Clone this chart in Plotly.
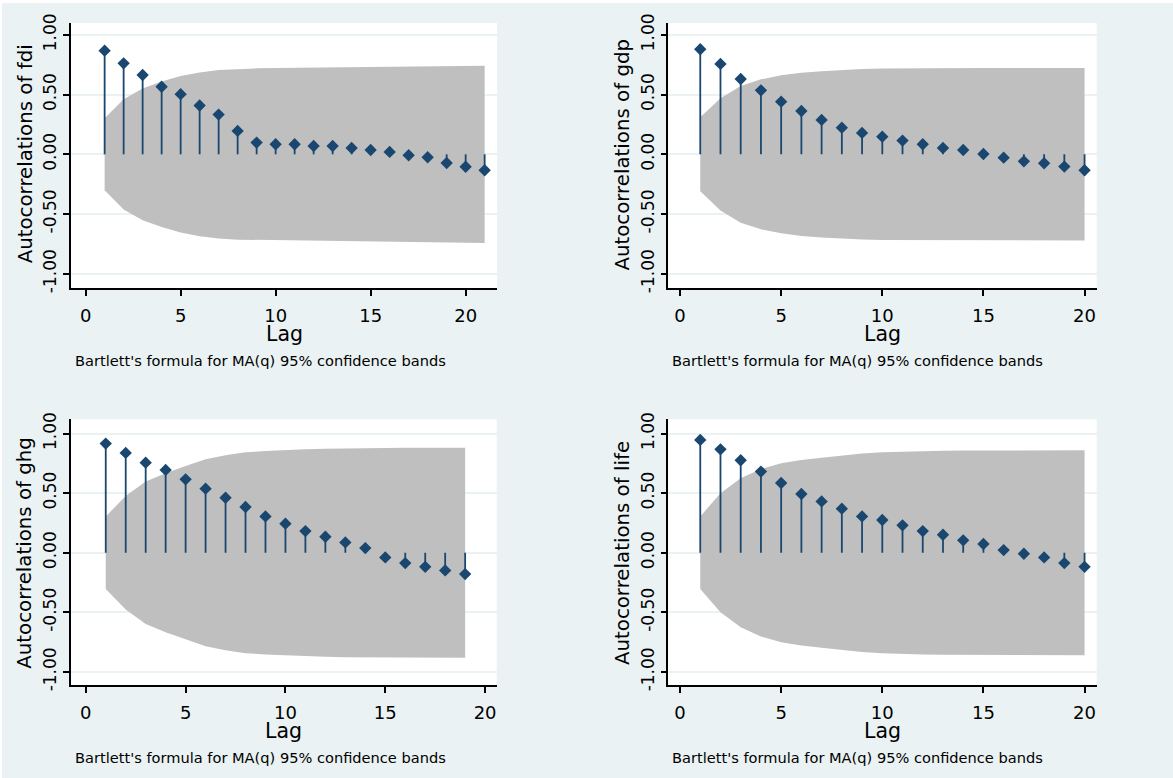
import plotly.graph_objects as go

W, H = 1173, 778

# ---------------- data ----------------
lags_fdi = list(range(1, 22))
lags_20 = list(range(1, 21))
lags_ghg = list(range(1, 20))

fdi_acf = [0.868, 0.762, 0.664, 0.566, 0.504, 0.409, 0.333, 0.196, 0.098, 0.084,
           0.084, 0.070, 0.070, 0.053, 0.036, 0.020, -0.008, -0.025, -0.073, -0.104, -0.134]
fdi_band = [0.302, 0.462, 0.552, 0.610, 0.655, 0.686, 0.706, 0.715, 0.720, 0.724,
            0.726, 0.728, 0.730, 0.732, 0.733, 0.735, 0.736, 0.737, 0.738, 0.740, 0.742]

gdp_acf = [0.880, 0.757, 0.631, 0.536, 0.441, 0.363, 0.288, 0.223, 0.179, 0.148,
           0.115, 0.084, 0.053, 0.036, 0.003, -0.028, -0.059, -0.075, -0.103, -0.134]
gdp_band = [0.310, 0.470, 0.573, 0.628, 0.662, 0.684, 0.696, 0.707, 0.714, 0.718,
            0.720, 0.721, 0.722, 0.722, 0.722, 0.722, 0.722, 0.722, 0.722, 0.722]

ghg_acf = [0.916, 0.838, 0.756, 0.695, 0.616, 0.538, 0.462, 0.384, 0.305, 0.244,
           0.182, 0.134, 0.087, 0.039, -0.039, -0.087, -0.118, -0.148, -0.179]
ghg_band = [0.305, 0.476, 0.597, 0.667, 0.728, 0.785, 0.818, 0.843, 0.853, 0.862,
            0.868, 0.873, 0.877, 0.879, 0.880, 0.881, 0.882, 0.882, 0.882]

life_acf = [0.947, 0.868, 0.776, 0.681, 0.585, 0.493, 0.431, 0.370, 0.305, 0.275,
            0.230, 0.182, 0.151, 0.104, 0.073, 0.022, -0.008, -0.039, -0.087, -0.118]
life_band = [0.305, 0.499, 0.625, 0.703, 0.751, 0.779, 0.798, 0.818, 0.833, 0.843,
             0.849, 0.853, 0.856, 0.858, 0.859, 0.860, 0.860, 0.860, 0.860, 0.860]

y_ticks = [-1.0, -0.5, 0.0, 0.5, 1.0]
x_ticks = [0, 5, 10, 15, 20]
note = "Bartlett's formula for MA(q) 95% confidence bands"

panels = [
    # name, lags, acf, band, x-domain px, y-domain px (top,bottom), x range, y range
    ("fdi", lags_fdi, fdi_acf, fdi_band, (71, 497), (23, 288), (-0.77, 21.65), (-1.12, 1.10)),
    ("gdp", lags_20, gdp_acf, gdp_band, (668.3, 1096.7), (23, 288), (-0.58, 20.6), (-1.12, 1.10)),
    ("ghg", lags_ghg, ghg_acf, ghg_band, (71, 496.7), (419.3, 685), (-0.74, 20.58), (-1.11, 1.12)),
    ("life", lags_20, life_acf, life_band, (668.3, 1096.7), (419.3, 685), (-0.58, 20.6), (-1.11, 1.12)),
]

NAVY = "#1a476f"
BAND = "#bfbfbf"
BG = "#eaf2f3"
FONT = "DejaVu Sans, Arial, sans-serif"

fig = go.Figure()
annotations = []
layout_axes = {}

for i, (name, lags, acf, band, xd, yd, xr, yr) in enumerate(panels):
    n = i + 1
    xa = "x" if n == 1 else f"x{n}"
    ya = "y" if n == 1 else f"y{n}"
    xkey = "xaxis" if n == 1 else f"xaxis{n}"
    ykey = "yaxis" if n == 1 else f"yaxis{n}"

    # confidence band
    bx = list(lags) + list(reversed(lags))
    by = list(band) + [-b for b in reversed(band)]
    fig.add_trace(go.Scatter(x=bx, y=by, xaxis=xa, yaxis=ya, mode="lines",
                             fill="toself", fillcolor=BAND, line=dict(width=0, color=BAND),
                             hoverinfo="skip", showlegend=False))
    # stems
    sx, sy = [], []
    for l, v in zip(lags, acf):
        sx += [l, l, None]
        sy += [0, v, None]
    fig.add_trace(go.Scatter(x=sx, y=sy, xaxis=xa, yaxis=ya, mode="lines",
                             line=dict(color=NAVY, width=1.8), hoverinfo="skip",
                             showlegend=False))
    # markers
    fig.add_trace(go.Scatter(x=lags, y=acf, xaxis=xa, yaxis=ya, mode="markers",
                             marker=dict(symbol="diamond", size=9.5, color=NAVY,
                                         line=dict(width=0)),
                             showlegend=False))

    dom_x = [xd[0] / W, xd[1] / W]
    dom_y = [1 - yd[1] / H, 1 - yd[0] / H]
    layout_axes[xkey] = dict(domain=dom_x, range=list(xr), anchor=ya, automargin=False,
                             tickvals=x_ticks, ticktext=[str(t) for t in x_ticks],
                             showgrid=False, zeroline=False, showline=True,
                             linecolor="black", linewidth=1.5, ticks="outside",
                             ticklen=6, tickwidth=1.5, tickcolor="black",
                             ticklabelstandoff=5,
                             tickfont=dict(family=FONT, size=18, color="black"),
                             fixedrange=True)
    layout_axes[ykey] = dict(domain=dom_y, range=list(yr), anchor=xa, automargin=False,
                             tickvals=y_ticks, ticktext=[f"{t:.2f}" for t in y_ticks],
                             tickangle=-90, showgrid=True, gridcolor=BG, gridwidth=1.5,
                             zeroline=False, showline=True, linecolor="black",
                             linewidth=1.5, ticks="outside", ticklen=6, tickwidth=1.5,
                             tickcolor="black",
                             tickfont=dict(family=FONT, size=17, color="black"),
                             fixedrange=True)

    # y title
    ytitle_x = (xd[0] - 46) / W
    annotations.append(dict(text=f"Autocorrelations of {name}", xref="paper", yref=ya,
                            x=ytitle_x, y=0, textangle=-90, showarrow=False,
                            xanchor="center", yanchor="middle",
                            font=dict(family=FONT, size=19.8, color="black")))
    # x title
    annotations.append(dict(text="Lag", xref="paper", yref="paper",
                            x=(dom_x[0] + dom_x[1]) / 2, y=1 - (yd[1] + 46) / H,
                            showarrow=False, xanchor="center", yanchor="middle",
                            font=dict(family=FONT, size=20.5, color="black")))
    # note
    annotations.append(dict(text=note, xref="paper", yref="paper",
                            x=(xd[0] + 2) / W, y=1 - (yd[1] + 72) / H,
                            showarrow=False, xanchor="left", yanchor="middle",
                            font=dict(family=FONT, size=14.6, color="black")))

# thin white frame at the top and left edges, as in the reference image
shapes = [
    dict(type="rect", xref="paper", yref="paper", x0=0, x1=1, y0=1 - 3 / H, y1=1,
         fillcolor="white", line=dict(width=0), layer="above"),
    dict(type="rect", xref="paper", yref="paper", x0=0, x1=2 / W, y0=0, y1=1,
         fillcolor="white", line=dict(width=0), layer="above"),
]

fig.update_layout(width=W, height=H, margin=dict(l=0, r=0, t=0, b=0, autoexpand=False),
                  paper_bgcolor=BG, plot_bgcolor="white",
                  annotations=annotations, shapes=shapes, **layout_axes)

fig.write_html("out.html", config={"displayModeBar": False},
               post_script="document.body.style.margin='0px';document.body.style.padding='0px';")
